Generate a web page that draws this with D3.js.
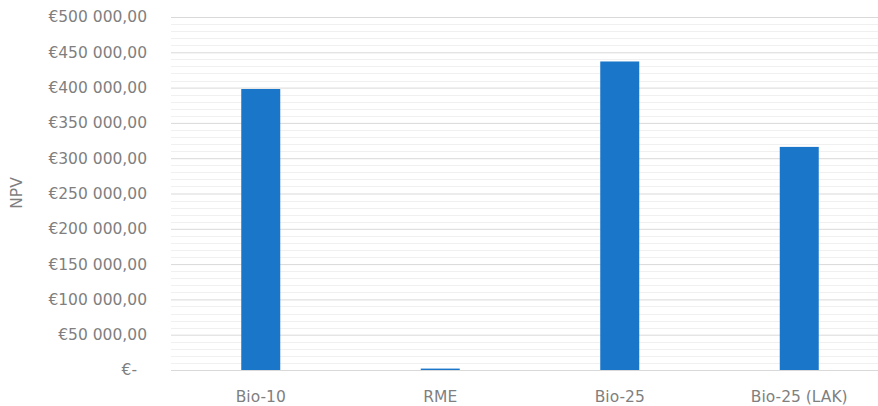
<!DOCTYPE html>
<html><head><meta charset="utf-8">
<script src="https://cdn.jsdelivr.net/npm/d3@7"></script>
<style>html,body{margin:0;padding:0;background:#fff;}</style>
</head><body>
<svg id="c" width="878" height="406"></svg>
<script>
const categories = ["Bio-10", "RME", "Bio-25", "Bio-25 (LAK)"];
const npvValues = [398000, 2000, 437000, 316000];
const majorTicks = [0, 50000, 100000, 150000, 200000, 250000, 300000, 350000, 400000, 450000, 500000];
const yTitle = "NPV";

(function () {
const svg = d3.select("#c");
const mLeft = 171, mRight = 889, mTop = 17, mBottom = 370;
const x = d3.scaleBand().domain(categories).range([mLeft, mRight]).padding(0);
const y = d3.scaleLinear().domain([0, 500000]).range([mBottom, mTop]);
const font = "'DejaVu Sans', sans-serif";
const fs = "15.5px";
const tc = "#7f7f7f";

// minor gridlines
const minor = d3.range(0, 500001, 10000).filter(v => v % 50000 !== 0);
svg.append("g").selectAll("line").data(minor).join("line")
  .attr("x1", mLeft).attr("x2", mRight)
  .attr("y1", d => Math.round(y(d)) + 0.5).attr("y2", d => Math.round(y(d)) + 0.5)
  .attr("stroke", "#f0f0f0").attr("stroke-width", 1);

// major gridlines + labels
const fmt = v => v === 0 ? "€-" : "€" + d3.format(",.2f")(v).replace(/,/g, " ").replace(".", ",");
const yAxis = d3.axisLeft(y).tickValues(majorTicks).tickFormat(fmt).tickSize(-(mRight - mLeft)).tickPadding(24);
const ga = svg.append("g").attr("transform", `translate(${mLeft},0)`).call(yAxis);
ga.select(".domain").remove();
ga.selectAll(".tick line").attr("stroke", "#d9d9d9");
ga.selectAll(".tick text").attr("fill", tc).style("font-family", font).style("font-size", fs);
ga.selectAll(".tick").filter(d => d === 0).select("text").attr("dx", -10);

// bars
const bw = 39;
svg.append("g").selectAll("rect").data(categories).join("rect")
  .attr("x", d => x(d) + x.bandwidth() / 2 - bw / 2)
  .attr("width", bw)
  .attr("y", (d, i) => y(npvValues[i]))
  .attr("height", (d, i) => mBottom - y(npvValues[i]))
  .attr("fill", "#1a76c9");

// x labels
const xAxis = d3.axisBottom(x).tickSize(0).tickPadding(21);
const gx = svg.append("g").attr("transform", `translate(0,${mBottom})`).call(xAxis);
gx.select(".domain").remove();
gx.selectAll(".tick text").attr("fill", tc).style("font-family", font).style("font-size", fs);

// y title
svg.append("text").attr("transform", "translate(22,193) rotate(-90)")
  .attr("text-anchor", "middle").attr("fill", tc)
  .style("font-family", font).style("font-size", fs).text(yTitle);
})();
</script>
</body></html>
